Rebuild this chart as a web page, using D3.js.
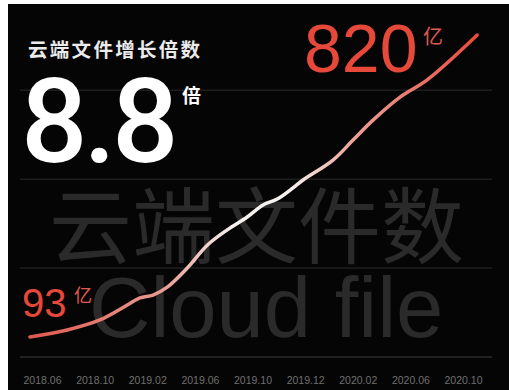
<!DOCTYPE html>
<html><head><meta charset="utf-8">
<script src="https://cdn.jsdelivr.net/npm/d3@7/dist/d3.min.js"></script>
<style>html,body{margin:0;padding:0;background:#fff;overflow:hidden}svg{display:block}</style>
</head><body>
<script>
// ---- data ----
const tickLabels = ["2018.06","2018.10","2019.02","2019.06","2019.10","2019.12","2020.02","2020.06","2020.10"];
// position along the axis, in tick-label units (0 = first label)
const seriesX = [-0.23,0.48,1.10,1.62,1.86,2.11,2.38,2.76,3.14,3.52,3.90,4.20,4.47,4.77,4.96,5.53,5.91,6.29,6.81,7.32,8.27];
// cloud files, 亿
const seriesY = [93,110,134,170,187,194,213,259,314,351,382,411,425,452,471,519,567,615,671,712,820];
const gridValues = [45,259,473,687];
const startValue = "93", endValue = "820", growth = "8.8";

const W = 509, H = 390;
const svg = d3.select("body").append("svg").attr("width", W).attr("height", H);
svg.append("rect").attr("x",8).attr("y",4).attr("width",W-8).attr("height",H-4).attr("fill","#050505");

const x = d3.scaleLinear().domain([0, tickLabels.length-1]).range([42, 463]);
const y = d3.scaleLinear().domain([93, 820]).range([337, 35]);

// grid
svg.append("g").selectAll("line").data(gridValues).join("line")
  .attr("x1",20).attr("x2",492)
  .attr("y1",d=>y(d)).attr("y2",d=>y(d))
  .attr("stroke",(d,i)=>i===0?"#2b2b2b":"#1e1e1e").attr("stroke-width",1.5);

// axis labels
const ax = d3.axisBottom(x).tickValues(d3.range(tickLabels.length)).tickFormat(i=>tickLabels[i]).tickSize(0);
const gAx = svg.append("g").attr("transform","translate(0,374)").call(ax);
gAx.select(".domain").remove();
gAx.selectAll("text").attr("fill","#707070").attr("font-size",10.5).attr("font-family","Liberation Sans, Arial, sans-serif").attr("dy","0.7em");

// watermarks
svg.append("text").attr("x",49).attr("y",257).text("云端文件数")
  .attr("font-family","Noto Sans CJK SC").attr("font-size",83).attr("fill","#2a2a2a");
svg.append("text").attr("x",89).attr("y",337).text("Cloud file")
  .attr("font-family","Liberation Sans, Arial, sans-serif").attr("font-size",85).attr("fill","#2a2a2a");

// gradient line
const defs = svg.append("defs");
const grad = defs.append("linearGradient").attr("id","lg").attr("gradientUnits","userSpaceOnUse")
  .attr("x1",x(seriesX[0])).attr("x2",x(seriesX[seriesX.length-1])).attr("y1",0).attr("y2",0);
[[0,"#e0574c"],[0.3,"#e99b94"],[0.45,"#f4f0ee"],[0.58,"#f6f2f0"],[0.72,"#eba39a"],[1,"#e84b3c"]]
  .forEach(s=>grad.append("stop").attr("offset",s[0]).attr("stop-color",s[1]));

const pts = seriesX.map((v,i)=>[v, seriesY[i]]);
svg.append("path").datum(pts)
  .attr("d", d3.line().x(d=>x(d[0])).y(d=>y(d[1])).curve(d3.curveCatmullRom.alpha(0.5)))
  .attr("fill","none").attr("stroke","url(#lg)").attr("stroke-width",3.5).attr("stroke-linecap","round");

// texts
const sans = "Liberation Sans, Arial, sans-serif";
svg.append("text").attr("x",28).attr("y",57).text("云端文件增长倍数")
  .attr("font-family","Noto Sans CJK SC").attr("font-weight",700).attr("font-size",19.5).attr("letter-spacing",2.3).attr("fill","#ebebeb");
svg.append("text").attr("x",21).attr("y",162).text(growth)
  .attr("font-family","Roboto").attr("font-weight",500).attr("font-size",117).attr("letter-spacing",-4).attr("fill","#ffffff");
svg.append("text").attr("x",182).attr("y",103).text("倍")
  .attr("font-family","Noto Sans CJK SC").attr("font-weight",700).attr("font-size",19).attr("fill","#ffffff");

svg.append("text").attr("x",304).attr("y",72).text(endValue)
  .attr("font-family",sans).attr("font-size",68).attr("fill","#e6483a");
svg.append("text").attr("x",423).attr("y",44).text("亿")
  .attr("font-family","Noto Sans CJK SC").attr("font-size",20).attr("fill","#e05a52");

svg.append("text").attr("x",22).attr("y",317).text(startValue)
  .attr("font-family",sans).attr("font-size",40).attr("fill","#e6483a");
svg.append("text").attr("x",74).attr("y",302).text("亿")
  .attr("font-family","Noto Sans CJK SC").attr("font-size",18).attr("fill","#e05a52");
</script>
</body></html>
